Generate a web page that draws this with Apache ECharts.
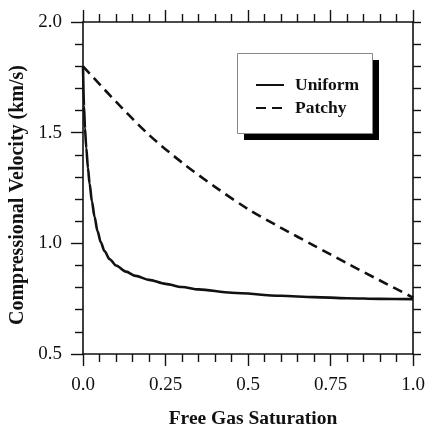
<!DOCTYPE html>
<html>
<head>
<meta charset="utf-8">
<script src="https://cdn.jsdelivr.net/npm/echarts@6/dist/echarts.min.js"></script>
<style>html,body{margin:0;padding:0;background:#fff}#c{width:427px;height:427px}</style>
</head>
<body>
<div id="c"></div>
<script>
var uniformS = [0, 0.003, 0.006, 0.01, 0.015, 0.02, 0.027, 0.035, 0.044, 0.054, 0.065, 0.081, 0.1, 0.13, 0.16, 0.2, 0.25, 0.3, 0.35, 0.45, 0.6, 0.7, 0.8, 0.9, 1.0];
var uniformV = [1.80, 1.62, 1.52, 1.43, 1.34, 1.27, 1.19, 1.12, 1.055, 1.005, 0.965, 0.928, 0.900, 0.872, 0.853, 0.835, 0.817, 0.803, 0.792, 0.777, 0.763, 0.757, 0.752, 0.749, 0.748];
var patchyS = [0, 0.1, 0.2, 0.3, 0.4, 0.5, 0.6, 0.7, 0.8, 0.9, 1.0];
var patchyV = [1.80, 1.64, 1.49, 1.365, 1.255, 1.155, 1.07, 0.99, 0.91, 0.832, 0.755];
var xTickLabels = {"0": "0.0", "0.25": "0.25", "0.5": "0.5", "0.75": "0.75", "1": "1.0"};
var yTickLabels = {"0.5": "0.5", "1": "1.0", "1.5": "1.5", "2": "2.0"};

function pairs(xs, ys) { return xs.map(function (x, i) { return [x, ys[i]]; }); }

var FONT = "'Liberation Serif', 'DejaVu Serif', serif";
var INK = '#111';
var axisCommon = {
  axisLine: { show: true, onZero: false, lineStyle: { color: INK, width: 1.6 } },
  axisTick: { show: true, inside: false, length: 12, lineStyle: { color: INK, width: 1.4 } },
  minorTick: { show: true, splitNumber: 5, length: 8, lineStyle: { color: INK, width: 1.4 } },
  splitLine: { show: false },
  minorSplitLine: { show: false }
};

var chart = echarts.init(document.getElementById('c'), null, { renderer: 'canvas' });
chart.setOption({
  backgroundColor: '#fff',
  animation: false,
  grid: { left: 83, top: 22, right: 14, bottom: 73, containLabel: false, outerBoundsMode: 'none' },
  graphic: [
    { type: 'rect', left: 244, top: 60, z: 10, shape: { width: 135, height: 80 }, style: { fill: '#000' } },
    { type: 'rect', left: 237, top: 53, z: 11, shape: { width: 135, height: 80 }, style: { fill: '#fff', stroke: '#888', lineWidth: 1 } }
  ],
  legend: {
    orient: 'vertical',
    left: 255, top: 76, z: 20,
    padding: 0,
    itemWidth: 28, itemHeight: 14, itemGap: 5,
    backgroundColor: 'transparent',
    itemStyle: { opacity: 0 },
    textStyle: { fontFamily: FONT, fontWeight: 'bold', fontSize: 17.5, color: INK, padding: [0, 0, 0, 6] },
    data: ['Uniform', 'Patchy']
  },
  xAxis: [
    Object.assign({}, axisCommon, {
      type: 'value', position: 'bottom', min: 0, max: 1, interval: 0.25,
      name: 'Free Gas Saturation', nameLocation: 'middle', nameGap: 55,
      nameTextStyle: { fontFamily: FONT, fontWeight: 'bold', fontSize: 19.5, color: INK, padding: [0, 0, 0, 10] },
      axisLabel: { show: true, margin: 22, fontFamily: FONT, fontSize: 19, color: INK,
        formatter: function (v) { return xTickLabels[String(v)] || ''; } }
    }),
    Object.assign({}, axisCommon, {
      type: 'value', position: 'top', min: 0, max: 1, interval: 0.25,
      axisLabel: { show: false }
    })
  ],
  yAxis: [
    Object.assign({}, axisCommon, {
      type: 'value', position: 'left', min: 0.5, max: 2.0, interval: 0.5,
      name: 'Compressional Velocity (km/s)', nameLocation: 'middle', nameGap: 52,
      nameTextStyle: { fontFamily: FONT, fontWeight: 'bold', fontSize: 20, color: INK, padding: [0, 14, 0, 0] },
      axisLabel: { show: true, margin: 21, fontFamily: FONT, fontSize: 19, color: INK,
        formatter: function (v) { return yTickLabels[String(v)] || ''; } }
    }),
    Object.assign({}, axisCommon, {
      type: 'value', position: 'right', min: 0.5, max: 2.0, interval: 0.5,
      axisTick: { show: true, inside: false, length: 8, lineStyle: { color: INK, width: 1.4 } },
      axisLabel: { show: false }
    })
  ],
  series: [
    {
      name: 'Uniform', type: 'line', xAxisIndex: 0, yAxisIndex: 0,
      data: pairs(uniformS, uniformV), symbol: 'none', smooth: 0.3, smoothMonotone: 'x',
      lineStyle: { color: INK, width: 2.6, type: 'solid' }, itemStyle: { color: INK }
    },
    {
      name: 'Patchy', type: 'line', xAxisIndex: 0, yAxisIndex: 0,
      data: pairs(patchyS, patchyV), symbol: 'none', smooth: 0.3,
      lineStyle: { color: INK, width: 2.6, type: [10, 6] }, itemStyle: { color: INK }
    }
  ]
});
</script>
</body>
</html>
